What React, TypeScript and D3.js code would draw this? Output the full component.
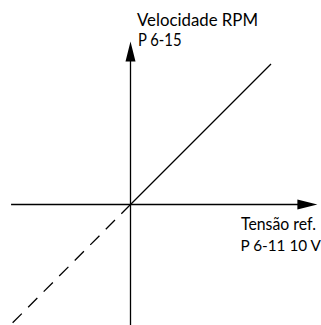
import React from "react";
import * as d3 from "d3";

const W = 321;
const H = 325;

// normalised data units: 1 = full reference voltage / speed
const solidLine: [number, number][] = [
  [0, 0],
  [1, 1],
];
const dashedLine: [number, number][] = [
  [0, 0],
  [-0.847, -0.85],
];
const xAxisExtent = [-0.85, 1.33];
const yAxisExtent = [-0.86, 1.16];

const yLabelLines = ["Velocidade RPM", "P 6-15"];
const xLabelLines = ["Tensão ref.", "P 6-11 10 V"];

export default function App() {
  const x = d3.scaleLinear().domain([0, 1]).range([130.5, 271]);
  const y = d3.scaleLinear().domain([0, 1]).range([204.5, 64]);
  const line = d3
    .line<[number, number]>()
    .x((d) => x(d[0]))
    .y((d) => y(d[1]));

  const ax0 = x(xAxisExtent[0]);
  const ax1 = x(xAxisExtent[1]);
  const ay0 = y(yAxisExtent[0]);
  const ay1 = y(yAxisExtent[1]);
  const ox = x(0);
  const oy = y(0);
  const headLen = 20;
  const headHalf = 5;
  const font = "Lato, 'Open Sans', sans-serif";
  const fs = 16.5;

  return (
    <svg
      width={W}
      height={H}
      style={{ position: "absolute", left: 0, top: 0, background: "#fff" }}
    >
      <rect width={W} height={H} fill="#fff" />
      {/* horizontal axis */}
      <line x1={ax0} y1={oy} x2={ax1 - headLen + 1} y2={oy} stroke="#000" strokeWidth={1.3} />
      <path
        d={`M${ax1},${oy} L${ax1 - headLen},${oy - headHalf} L${ax1 - headLen},${oy + headHalf} Z`}
        fill="#000"
      />
      {/* vertical axis */}
      <line x1={ox} y1={ay0} x2={ox} y2={ay1 + headLen - 1} stroke="#000" strokeWidth={1.3} />
      <path
        d={`M${ox},${ay1} L${ox - headHalf},${ay1 + headLen} L${ox + headHalf},${ay1 + headLen} Z`}
        fill="#000"
      />
      {/* characteristic */}
      <path d={line(solidLine) || ""} fill="none" stroke="#000" strokeWidth={1.3} />
      <path
        d={line(dashedLine) || ""}
        fill="none"
        stroke="#000"
        strokeWidth={1.3}
        strokeDasharray="13 9"
      />
      {/* labels */}
      <g fontFamily={font} fontSize={fs} fill="#000">
        <text x={137} y={26} textLength={121} lengthAdjust="spacingAndGlyphs">
          {yLabelLines[0]}
        </text>
        <text x={138} y={45.5} textLength={43.5} lengthAdjust="spacingAndGlyphs">
          {yLabelLines[1]}
        </text>
        <text x={241} y={229.5} textLength={75} lengthAdjust="spacingAndGlyphs">
          {xLabelLines[0]}
        </text>
        <text x={240.5} y={251} fontSize={15.3}>
          {xLabelLines[1]}
        </text>
      </g>
    </svg>
  );
}
